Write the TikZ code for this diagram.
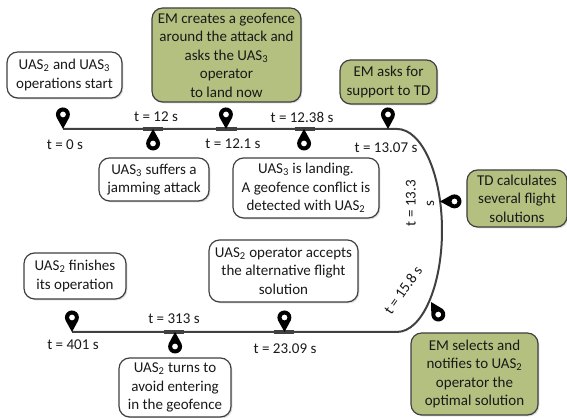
\documentclass[tikz,border=0pt]{standalone}
\usepackage{fontspec}
\setmainfont{Carlito}
\usetikzlibrary{shadows}
\definecolor{boxgreen}{HTML}{B3C07F}
\definecolor{linegray}{HTML}{404040}
\newcommand{\uas}[1]{UAS\textsubscript{#1}}
\tikzset{
    eventbox/.style={draw=linegray,line width=0.9pt,rounded corners=8pt,align=center,inner sep=0pt,
        font=\fontsize{11.3}{13.9}\selectfont,text=black!90,
        drop shadow={shadow xshift=1pt,shadow yshift=-1pt,fill=black,opacity=0.15}},
    whitebox/.style={eventbox,fill=white},
    greenbox/.style={eventbox,fill=boxgreen},
    timelabel/.style={font=\fontsize{11.3}{13.9}\selectfont,text=black!90,align=center,inner sep=0pt},
    timeline/.style={draw=linegray,line width=1.5pt},
    timetick/.style={draw=linegray,line width=2.6pt},
    geomark/.pic={
        \fill[black,even odd rule] (0,0) -- (-0.17,0.306) arc[radius=0.185,start angle=205,end angle=-25] -- cycle
            (0,0.384) circle[radius=0.08];
    }
}
\begin{document}
\begin{tikzpicture}
    \useasboundingbox (0,0) rectangle (15,11.058);
    \draw[timeline] (1.667,7.646)--(10.503,7.646) arc[x radius=1.19,y radius=2.685,start angle=90,end angle=-90]--(1.905,2.275);
    \draw[timetick] (3.783,7.646)--(4.312,7.646);
    \draw[timetick] (5.714,7.646)--(6.270,7.646);
    \draw[timetick] (7.804,7.646)--(8.333,7.646);
    \draw[timetick] (4.339,2.275)--(4.868,2.275);
    \draw[timetick] (7.249,2.275)--(7.778,2.275);
    \pic at (1.667,7.646) {geomark};
    \pic[rotate=180] at (4.048,7.646) {geomark};
    \pic at (5.979,7.646) {geomark};
    \pic[rotate=180] at (8.042,7.646) {geomark};
    \pic at (10.265,7.646) {geomark};
    \pic[rotate=-90] at (11.64,5.728) {geomark};
    \pic[rotate=-150] at (11.402,3.069) {geomark};
    \pic at (1.905,2.275) {geomark};
    \pic[rotate=180] at (4.630,2.275) {geomark};
    \pic at (7.526,2.275) {geomark};
    \node[whitebox,minimum width=3.04cm,minimum height=1.217cm] (start) at (1.706,9.074) {\uas{2} and \uas{3}\\operations start};
    \node[greenbox,minimum width=3.94cm,minimum height=2.487cm] (geofence) at (5.992,9.603) {EM creates a geofence\\around the attack and\\asks the \uas{3}\\operator\\to land now};
    \node[greenbox,minimum width=2.566cm,minimum height=1.164cm] (support) at (10.278,8.889) {EM asks for\\support to TD};
    \node[whitebox,minimum width=2.91cm,minimum height=1.138cm] (jamming) at (4.074,6.310) {\uas{3} suffers a\\jamming attack};
    \node[whitebox,minimum width=3.862cm,minimum height=1.587cm] (landing) at (8.095,6.085) {\uas{3} is landing.\\A geofence conflict is\\detected with \uas{2}};
    \node[greenbox,minimum width=2.646cm,minimum height=1.508cm] (solutions) at (13.677,5.807) {TD calculates\\several flight\\solutions};
    \node[greenbox,minimum width=3.36cm,minimum height=2.169cm] (selects) at (12.553,1.164) {EM selects and\\notifies to \uas{2}\\operator the\\optimal solution};
    \node[whitebox,minimum width=3.942cm,minimum height=1.64cm] (accepts) at (7.5,3.889) {\uas{2} operator accepts\\the alternative flight\\solution};
    \node[whitebox,minimum width=2.698cm,minimum height=1.217cm] (finishes) at (1.984,3.757) {\uas{2} finishes\\its operation};
    \node[whitebox,minimum width=2.963cm,minimum height=1.561cm] (turns) at (4.630,0.807) {\uas{2} turns to\\avoid entering\\in the geofence};
    \node[timelabel] (t0) at (1.72,7.22) {t = 0 s};
    \node[timelabel] (t12) at (4.127,7.96) {t = 12 s};
    \node[timelabel] (t121) at (6.164,7.25) {t = 12.1 s};
    \node[timelabel] (t1238) at (7.989,7.96) {t = 12.38 s};
    \node[timelabel] (t1307) at (10.212,7.14) {t = 13.07 s};
    \node[timelabel,rotate=90] (t133) at (11.11,5.68) {t = 13.3\\s};
    \node[timelabel,rotate=55] (t158) at (10.661,3.386) {t = 15.8 s};
    \node[timelabel] (t401) at (1.931,1.931) {t = 401 s};
    \node[timelabel] (t313) at (4.603,2.619) {t = 313 s};
    \node[timelabel] (t2309) at (7.54,1.825) {t = 23.09 s};
\end{tikzpicture}
\end{document}
